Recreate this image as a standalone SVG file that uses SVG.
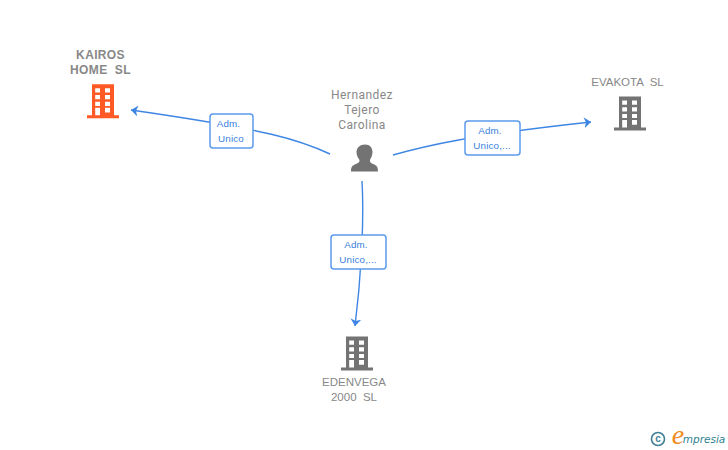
<svg xmlns="http://www.w3.org/2000/svg" width="728" height="450" viewBox="0 0 728 450">
<style>
text{font-family:"Liberation Sans",Arial,sans-serif;text-anchor:middle;white-space:pre}
.n{font-size:11.5px;fill:#888}
.b{font-weight:bold;font-size:12px;letter-spacing:.35px}
.p{font-family:Roboto,"Liberation Sans",sans-serif;font-size:12px;fill:#888;letter-spacing:.45px}
.l{font-size:9.800px;fill:#3a7fdc;letter-spacing:.15px}
.e{fill:none;stroke:#3f86e4;stroke-width:1.4}
.box{fill:#fff;stroke:#5b9aec;stroke-width:1.500}
</style>
<defs>
<symbol id="bld" viewBox="0 0 32 35" width="32" height="35" overflow="visible">
<path fill-rule="evenodd" d="M5 0H27V31H32V34H0V31H5ZM8.200 4V8.200H13V4ZM18 4V8.200H23V4ZM8.200 10.700V14.900H13V10.700ZM18 10.700V14.900H23V10.700ZM8.200 17.400V21.600H13V17.400ZM18 17.400V21.600H23V17.400ZM8.200 23.400V31H13V23.400ZM18 23.400V28.200H23V23.400Z"/>
</symbol>
<marker id="ah" viewBox="0 0 7 11" refX="7" refY="5.500" markerWidth="7" markerHeight="11" markerUnits="userSpaceOnUse" orient="auto"><path d="M0 0L7 5.500L0 11L2 5.500Z" fill="#3f86e4"/></marker>
</defs>
<g id="connectors">
<path class="e" d="M330 154C300 140 270 130 131 110" marker-end="url(#ah)"/>
<path class="e" d="M393 155C425 146 470 135 591 122" marker-end="url(#ah)"/>
<path class="e" d="M362 181C364 215 362 270 355 326" marker-end="url(#ah)"/>
</g>
<g id="edge-label-1"><rect class="box" x="210" y="114" width="43" height="34" rx="3"/><text class="l" x="228.500" y="127">Adm.</text><text class="l" x="231" y="142">Unico</text></g>
<g id="edge-label-2"><rect class="box" x="465" y="121" width="55" height="34" rx="3"/><text class="l" x="490" y="134">Adm.</text><text class="l" x="492" y="149">Unico,...</text></g>
<g id="edge-label-3"><rect class="box" x="331" y="235" width="55" height="34" rx="3"/><text class="l" x="356" y="248">Adm.</text><text class="l" x="358" y="263">Unico,...</text></g>
<g id="node-kairos"><text class="n b" x="100.500" y="59">KAIROS</text><text class="n b" x="100.500" y="74">HOME  SL</text><use href="#bld" x="87" y="84.300" fill="#ff5a26"/></g>
<g id="node-hernandez"><text class="p" x="362" y="99">Hernandez</text><text class="p" x="362" y="114">Tejero</text><text class="p" x="362" y="129">Carolina</text>
<path fill="#737373" d="M365 144.500C370 144.500 372.500 148 372.500 152C372.500 155 371 158 370 160C369.500 162 371 163 373 164C377 165.500 378 167 378 171.500H351C351 167 352 165.500 356 164C358 163 360 162 359.500 160C358 158 356.500 155 356.500 152C356.500 148 360 144.500 365 144.500Z"/></g>
<g id="node-evakota"><text class="n" x="627.500" y="86">EVAKOTA  SL</text><use href="#bld" x="614" y="96.500" fill="#737373"/></g>
<g id="node-edenvega"><use href="#bld" x="341" y="336.500" fill="#737373"/><text class="n" x="354" y="386">EDENVEGA</text><text class="n" x="354" y="401">2000  SL</text></g>
<g id="logo"><circle cx="658" cy="439" r="6.500" fill="none" stroke="#3f7f96" stroke-width="1.600"/><text x="658" y="442" font-size="10" font-weight="bold" fill="#3f7f96">c</text>
<text x="678" y="444" font-size="28" font-style="italic" fill="#f08a1d" style="font-family:'Liberation Serif',serif">e</text>
<text x="704" y="443" font-size="10.500" font-style="italic" fill="#2f7f92" style="font-family:'DejaVu Sans',sans-serif">mpresia</text></g>
</svg>
